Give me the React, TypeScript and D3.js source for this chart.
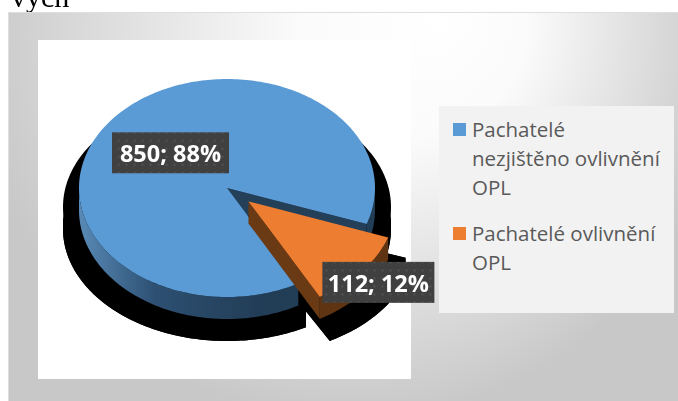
import React from 'react';
import * as d3 from 'd3';

// Chart data
const categories = ['Pachatelé nezjištěno ovlivnění OPL', 'Pachatelé ovlivnění OPL'];
const values = [850, 112];
const percentLabels = ['88%', '12%'];
const legendLines = [
  ['Pachatelé', 'nezjištěno ovlivnění', 'OPL'],
  ['Pachatelé ovlivnění', 'OPL'],
];
const explode = [0, 0.19];

const topColors = ['#5b9bd5', '#ed7d31'];
const sideColors = ['url(#blueSide)', '#5e3413'];
const cutColors = ['#243f58', '#6a3a15'];

const W = 678;
const H = 401;

// pie geometry (ellipse projection of a tilted disc)
const geo = { cx: 227, cy: 188, rx: 148, ry: 109, depth: 22 };
const shadowGeo = { cx: 227, cy: 207, rx: 164, ry: 112, depth: 22 };
const firstAngle = (151.2 * Math.PI) / 180;
const labelRadius = [0.5, 1.15];
const labelBoxW = [117, 112];

type Geo = typeof geo;

const pie = d3
  .pie<number>()
  .sort(null)
  .startAngle(firstAngle)
  .endAngle(firstAngle + 2 * Math.PI);

const arcs = pie(values);

// d3 angle (clockwise from 12 o'clock) -> screen angle (clockwise from 3 o'clock)
const toScreen = (a: number) => a - Math.PI / 2;

const line = d3.line<[number, number]>();

function pt(g: Geo, ox: number, oy: number, phi: number, dy = 0): [number, number] {
  return [g.cx + ox + g.rx * Math.cos(phi), g.cy + oy + g.ry * Math.sin(phi) + dy];
}

function arcPoints(g: Geo, ox: number, oy: number, p0: number, p1: number, dy = 0) {
  const n = Math.max(2, Math.ceil(Math.abs(p1 - p0) / 0.02));
  return d3.range(n + 1).map((i) => pt(g, ox, oy, p0 + ((p1 - p0) * i) / n, dy));
}

function frontRanges(p0: number, p1: number) {
  const out: [number, number][] = [];
  for (let k = -1; k <= 2; k++) {
    const a = Math.max(p0, 2 * Math.PI * k);
    const b = Math.min(p1, 2 * Math.PI * k + Math.PI);
    if (b > a) out.push([a, b]);
  }
  return out;
}

function slicePaths(g: Geo, i: number) {
  const a = arcs[i];
  const p0 = toScreen(a.startAngle);
  const p1 = toScreen(a.endAngle);
  const mid = (p0 + p1) / 2;
  const ox = explode[i] * g.rx * Math.cos(mid);
  const oy = explode[i] * g.ry * Math.sin(mid);
  const c: [number, number] = [g.cx + ox, g.cy + oy];
  const cd: [number, number] = [c[0], c[1] + g.depth];

  const top = line([c, ...arcPoints(g, ox, oy, p0, p1), c]) + 'Z';
  const bottom = line([cd, ...arcPoints(g, ox, oy, p0, p1, g.depth), cd]) + 'Z';
  const walls = frontRanges(p0, p1).map(
    ([s, e]) =>
      line([...arcPoints(g, ox, oy, s, e), ...arcPoints(g, ox, oy, e, s, g.depth)]) + 'Z'
  );
  const cut = (phi: number) =>
    line([c, pt(g, ox, oy, phi), pt(g, ox, oy, phi, g.depth), cd]) + 'Z';
  const cuts: string[] = [];
  if (Math.cos(p0) < 0) cuts.push(cut(p0));
  if (Math.cos(p1) > 0) cuts.push(cut(p1));
  const all = [cut(p0), cut(p1)];
  return { top, bottom, walls, cuts, all, mid, ox, oy };
}

export default function App() {
  const slices = arcs.map((_, i) => slicePaths(geo, i));
  const shadows = arcs.map((_, i) => slicePaths(shadowGeo, i));

  return (
    <div style={{ position: 'fixed', left: 0, top: 0 }}>
      <svg width={W} height={H} viewBox={`0 0 ${W} ${H}`}>
        <defs>
          <radialGradient
            id="bg"
            gradientUnits="userSpaceOnUse"
            cx={350}
            cy={40}
            r={380}
            fx={440}
            fy={14}
          >
            <stop offset="0" stopColor="#ffffff" />
            <stop offset="0.3" stopColor="#fbfbfb" />
            <stop offset="1" stopColor="#c8c8c8" />
          </radialGradient>
          <linearGradient id="blueSide" gradientUnits="userSpaceOnUse" x1={80} y1={0} x2={380} y2={0}>
            <stop offset="0" stopColor="#5889b6" />
            <stop offset="0.25" stopColor="#2d5072" />
            <stop offset="0.6" stopColor="#223d56" />
            <stop offset="1" stopColor="#223d56" />
          </linearGradient>
          <pattern id="dots" width={8} height={8} patternUnits="userSpaceOnUse">
            <rect width={8} height={8} fill="#404040" />
            <circle cx={4} cy={4} r={1.1} fill="#555555" />
          </pattern>
        </defs>

        <text x={11} y={7} fontFamily="'Liberation Serif', serif" fontSize={30} fill="#000">
          vých
        </text>

        {/* chart area */}
        <rect x={8.5} y={12.5} width={W} height={H} fill="url(#bg)" stroke="#dedede" />
        <rect x={38} y={40} width={373} height={339} fill="#ffffff" />

        {/* shadow */}
        <g fill="#000000">
          {shadows.map((s, i) => (
            <g key={i}>
              <path d={s.bottom} />
              {s.walls.map((d, j) => (
                <path key={j} d={d} />
              ))}
              {s.all.map((d, j) => (
                <path key={'c' + j} d={d} />
              ))}
              <path d={s.top} />
            </g>
          ))}
        </g>

        {/* slices */}
        {slices.map((s, i) => (
          <g key={i}>
            {s.walls.map((d, j) => (
              <path key={j} d={d} fill={sideColors[i]} />
            ))}
            {s.cuts.map((d, j) => (
              <path key={'c' + j} d={d} fill={cutColors[i]} />
            ))}
            <path d={s.top} fill={topColors[i]} />
          </g>
        ))}

        {/* data labels */}
        {slices.map((s, i) => {
          const [lx, ly] = [
            geo.cx + s.ox + labelRadius[i] * geo.rx * Math.cos(s.mid),
            geo.cy + s.oy + labelRadius[i] * geo.ry * Math.sin(s.mid),
          ];
          return (
            <g key={i} transform={`translate(${lx},${ly})`}>
              <rect x={-labelBoxW[i] / 2} y={-20.5} width={labelBoxW[i]} height={41} fill="url(#dots)" />
              <text
                x={0}
                y={9.5}
                textAnchor="middle"
                fontFamily="'Open Sans', sans-serif"
                fontWeight="bold"
                fontSize={23.5}
                fill="#ffffff"
              >
                {`${values[i]}; ${percentLabels[i]}`}
              </text>
            </g>
          );
        })}

        {/* legend */}
        <rect x={439} y={106} width={235} height={207} fill="#f2f2f2" />
        {categories.map((cat, i) => {
          const y0 = i === 0 ? 137 : 241;
          return (
            <g key={cat}>
              <rect x={453} y={y0 - 14} width={13} height={13} fill={topColors[i]} />
              <text fontFamily="'Open Sans', sans-serif" fontSize={20.5} fill="#595959">
                {legendLines[i].map((l, j) => (
                  <tspan key={j} x={472} y={y0 + j * 28.8}>
                    {l}
                  </tspan>
                ))}
              </text>
            </g>
          );
        })}
      </svg>
    </div>
  );
}
